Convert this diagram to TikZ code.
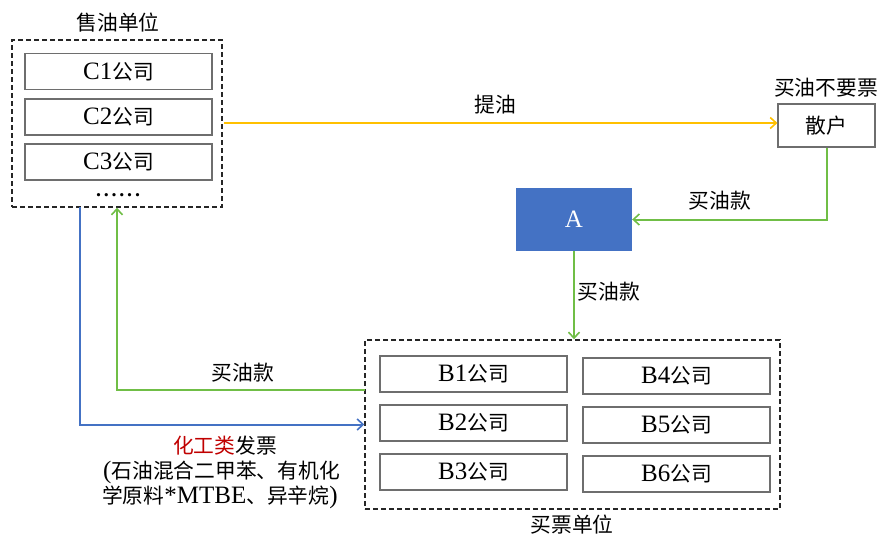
\documentclass[tikz,border=0pt]{standalone}
\usepackage{fontspec}
\setmainfont{Liberation Serif}
\newfontfamily\cjk[Scale=0.83]{Noto Sans CJK SC}
\usetikzlibrary{arrows.meta}
\definecolor{oilyellow}{HTML}{FFC000}
\definecolor{moneygreen}{RGB}{112,190,70}
\definecolor{billblue}{HTML}{4472C4}
\definecolor{boxgray}{HTML}{6E6E6E}
\definecolor{redtext}{HTML}{C00000}
\begin{document}
\begin{tikzpicture}[x=1pt,y=-1pt,
  every node/.style={font=\fontsize{25}{28}\selectfont, inner sep=0pt},
  company/.style={draw=boxgray, line width=1.2pt, minimum width=187pt, minimum height=36pt},
  group/.style={draw=black!85, line width=1.4pt, dash pattern=on 5pt off 3pt},
  tip/.style={-{Straight Barb[length=6pt,width=11pt,line width=1.6pt]}},
  flow/.style={line width=2pt, tip}
]
\useasboundingbox (0,0) rectangle (877,538);
% seller group
\node[group, minimum width=210pt, minimum height=167pt] (sell) at (117,123.5) {};
\node (selllbl) at (118,23) {\cjk 售油单位};
\node[company] (c1) at (118.5,71.5) {C1{\cjk 公司}};
\node[company] (c2) at (118.5,117) {C2{\cjk 公司}};
\node[company] (c3) at (118.5,162) {C3{\cjk 公司}};
\node[font=\fontsize{20}{20}\selectfont\bfseries, anchor=base] (dots) at (118,196) {.\kern2.8pt.\kern2.8pt.\kern2.8pt.\kern2.8pt.\kern2.8pt.};
% retail buyer
\node[draw=boxgray, line width=1.2pt, minimum width=97pt, minimum height=43pt] (retail) at (826.5,125.5) {\cjk 散户};
\node (retaillbl) at (826,88) {\cjk 买油不要票};
% A
\node[fill=billblue, minimum width=116pt, minimum height=63pt, text=white] (A) at (574,219.5) {A};
% buyer group
\node[group, minimum width=415pt, minimum height=169pt] (buy) at (572.5,424.5) {};
\node (buylbl) at (572,525) {\cjk 买票单位};
\node[company] (b1) at (473.5,374) {B1{\cjk 公司}};
\node[company] (b2) at (473.5,423) {B2{\cjk 公司}};
\node[company] (b3) at (473.5,472) {B3{\cjk 公司}};
\node[company] (b4) at (676.5,376) {B4{\cjk 公司}};
\node[company] (b5) at (676.5,425) {B5{\cjk 公司}};
\node[company] (b6) at (676.5,474) {B6{\cjk 公司}};
% connectors
\coordinate (ys) at (224,123);
\draw[flow, draw=oilyellow] (ys) -- (ys -| retail.west);
\node (tiyou) at (495,105) {\cjk 提油};
\draw[flow, draw=moneygreen] (retail.south) |- (A.east);
\node (pay1) at (720,201) {\cjk 买油款};
\draw[flow, draw=moneygreen] (A.south) -- (A.south |- buy.north);
\node (pay2) at (609,292) {\cjk 买油款};
\coordinate (g3) at (365,390);
\draw[flow, draw=moneygreen] (g3) -| (sell.south);
\node (pay3) at (243,373) {\cjk 买油款};
\coordinate (b0) at (80,207);
\draw[flow, draw=billblue] (b0) |- (buy.west);
\node (inv) at (225,446) {\cjk\textcolor{redtext}{化工类}发票};
\node[anchor=west] (inv2) at (103,472) {({\cjk 石油混合二甲苯、有机化}};
\node[anchor=west] (inv3) at (102,497) {{\cjk 学原料}*MTBE{\cjk 、异辛烷})};
\end{tikzpicture}
\end{document}
